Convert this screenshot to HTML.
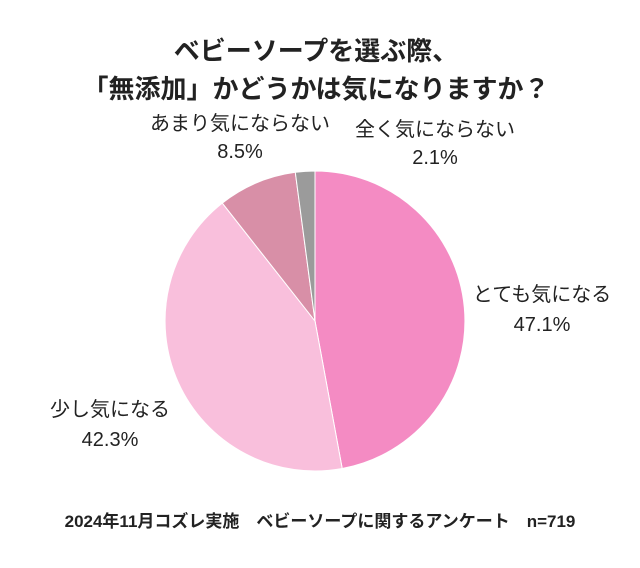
<!DOCTYPE html>
<html><head><meta charset="utf-8"><style>
body{margin:0;width:640px;height:568px;background:#fff;overflow:hidden;font-family:"Liberation Sans","Noto Sans CJK JP",sans-serif;color:#222}
.t{position:absolute;white-space:nowrap;text-align:center}
</style></head><body>
<div class="t" style="left:-4px;width:640px;top:32px;font-size:26px;font-weight:bold;line-height:38px">ベビーソープを選ぶ際、<br>「無添加」かどうかは気になりますか？</div>
<svg width="640" height="568" style="position:absolute;left:0;top:0">
<path d="M315,321 L315,171 A150,150 0 0 1 342.2,468.5 Z" fill="#f48bc3" stroke="#fff" stroke-width="1"/>
<path d="M315,321 L342.2,468.5 A150,150 0 0 1 222.3,203.1 Z" fill="#f9bfdc" stroke="#fff" stroke-width="1"/>
<path d="M315,321 L222.3,203.1 A150,150 0 0 1 295.3,172.3 Z" fill="#d88fa7" stroke="#fff" stroke-width="1"/>
<path d="M315,321 L295.3,172.3 A150,150 0 0 1 315,171 Z" fill="#9b9b9b" stroke="#fff" stroke-width="1"/>
</svg>
<div class="t" style="left:140px;width:200px;top:110px;font-size:20px;line-height:28px">あまり気にならない<br>8.5%</div>
<div class="t" style="left:335px;width:200px;top:116px;font-size:20px;line-height:28px">全く気にならない<br>2.1%</div>
<div class="t" style="left:457px;width:170px;top:280px;font-size:20px;line-height:30px">とても気になる<br>47.1%</div>
<div class="t" style="left:25px;width:170px;top:395px;font-size:20px;line-height:30px">少し気になる<br>42.3%</div>
<div class="t" style="left:0;width:640px;top:507px;font-size:17px;font-weight:bold">2024年11月コズレ実施　ベビーソープに関するアンケート　n=719</div>
</body></html>
